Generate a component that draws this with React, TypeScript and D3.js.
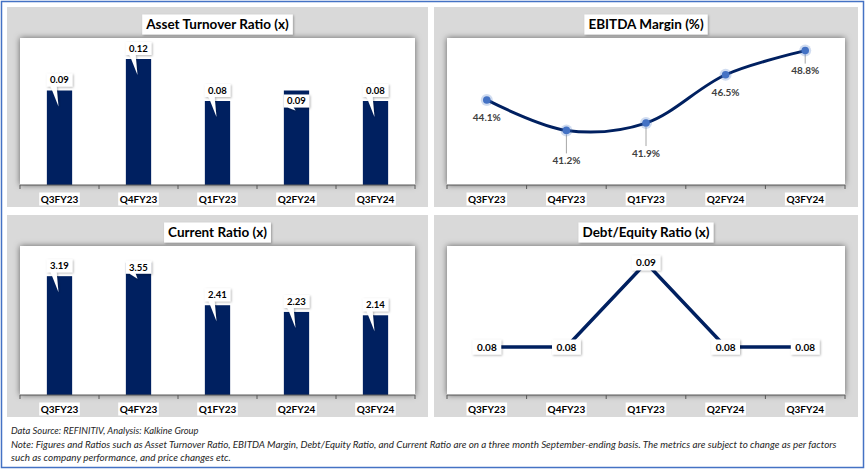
import { useEffect, useRef } from 'react';
import * as d3 from 'd3';

const quarters = ['Q3FY23', 'Q4FY23', 'Q1FY23', 'Q2FY24', 'Q3FY24'];
const assetTurnover = [0.09, 0.12, 0.08, 0.09, 0.08];
const ebitdaMargin = [44.1, 41.2, 41.9, 46.5, 48.8];
const currentRatio = [3.19, 3.55, 2.41, 2.23, 2.14];
const debtEquity = [0.08, 0.08, 0.09, 0.08, 0.08];

const titles = ['Asset Turnover Ratio (x)', 'EBITDA Margin (%)', 'Current Ratio (x)', 'Debt/Equity Ratio (x)'];
const footnotes = [
  'Data Source: REFINITIV, Analysis: Kalkine Group',
  'Note: Figures and Ratios such as Asset Turnover Ratio, EBITDA Margin, Debt/Equity Ratio, and Current Ratio  are on a three month September-ending basis. The metrics are subject to change as per factors',
  'such as company performance, and price changes etc.',
];

// manual nudges of the data labels, as placed in the source workbook
const assetLabelShift = [0, 0, 0, 21, 0];
const currentLabelShift = [0, 15, 0, 0, 0];
const ebitdaLabelDrop = [18, 30, 30, 18, 20];

const W = 866;
const H = 470;
const NAVY = '#002060';
const FONT = "Lato, 'Liberation Sans', sans-serif";

type Panel = { x: number; y: number; w: number; h: number };
type Plot = { l: number; r: number; t: number; b: number };

const panels: Panel[] = [
  { x: 7, y: 7, w: 421, h: 200 },
  { x: 434, y: 7, w: 424, h: 200 },
  { x: 7, y: 215, w: 421, h: 202 },
  { x: 434, y: 215, w: 424, h: 202 },
];

function frame(svg: any, p: Panel, title: string) {
  const g = svg.append('g');
  g.append('rect')
    .attr('x', p.x).attr('y', p.y).attr('width', p.w).attr('height', p.h)
    .attr('fill', '#d9d9d9');

  const plot: Plot = { l: p.x + 13, r: p.x + p.w - 13, t: p.y + 31, b: p.y + p.h - 22 };
  g.append('rect')
    .attr('x', plot.l).attr('y', plot.t)
    .attr('width', plot.r - plot.l).attr('height', plot.b - plot.t)
    .attr('fill', '#fff')
    .attr('filter', 'url(#plotShadow)');

  // title box
  const cx = p.x + p.w / 2;
  const box = g.append('rect');
  const t = g.append('text')
    .attr('x', cx).attr('y', p.y + 17.5).attr('dy', '0.35em')
    .attr('text-anchor', 'middle')
    .style('font-family', FONT).style('font-weight', 'bold').style('font-size', '13.5px')
    .attr('fill', '#000')
    .text(title);
  const tw = (t.node() as SVGTextElement).getComputedTextLength();
  box.attr('x', cx - tw / 2 - 4).attr('y', p.y + 7.5)
    .attr('width', tw + 8).attr('height', 20)
    .attr('fill', '#fff').attr('filter', 'url(#boxShadow)');

  const x = d3.scaleBand<string>()
    .domain(quarters)
    .range([plot.l, plot.r])
    .paddingInner(0.68)
    .paddingOuter(0.34);

  const layer = g.append('g');

  // category axis
  const edge = d3.scaleLinear().domain([0, quarters.length]).range([plot.l, plot.r]);
  const axis = g.append('g');
  axis.append('line')
    .attr('x1', plot.l).attr('x2', plot.r).attr('y1', plot.b).attr('y2', plot.b)
    .attr('stroke', '#595959').attr('stroke-width', 1);
  axis.selectAll('line.tick')
    .data(d3.range(quarters.length + 1))
    .join('line')
    .attr('class', 'tick')
    .attr('x1', (i: number) => edge(i)).attr('x2', (i: number) => edge(i))
    .attr('y1', plot.b).attr('y2', plot.b + 4)
    .attr('stroke', '#595959');

  quarters.forEach((q) => {
    const lx = (x(q) as number) + x.bandwidth() / 2;
    const ly = p.y + p.h - 8;
    const bg = axis.append('rect');
    const lt = axis.append('text')
      .attr('x', lx).attr('y', ly).attr('dy', '0.35em')
      .attr('text-anchor', 'middle')
      .style('font-family', FONT).style('font-weight', 'bold').style('font-size', '10px')
      .attr('fill', '#000')
      .text(q);
    const w = (lt.node() as SVGTextElement).getComputedTextLength();
    bg.attr('x', lx - w / 2 - 1.5).attr('y', ly - 6.5).attr('width', w + 3).attr('height', 13).attr('fill', '#fff');
  });

  return { layer, plot, x };
}

function barChart(svg: any, p: Panel, title: string, values: number[], domain: [number, number], shift: number[]) {
  const { layer, plot, x } = frame(svg, p, title);
  const y = d3.scaleLinear().domain(domain).range([plot.b, plot.t]);

  layer.selectAll('rect.bar')
    .data(values)
    .join('rect')
    .attr('class', 'bar')
    .attr('x', (_: number, i: number) => x(quarters[i]) as number)
    .attr('width', x.bandwidth())
    .attr('y', (d: number) => y(d))
    .attr('height', (d: number) => plot.b - y(d))
    .attr('fill', NAVY);

  values.forEach((v, i) => {
    const cx = (x(quarters[i]) as number) + x.bandwidth() / 2;
    const top = y(v);
    const callout = layer.append('path');
    const txt = layer.append('text')
      .attr('x', cx).attr('text-anchor', 'middle')
      .style('font-family', FONT).style('font-weight', 'bold').style('font-size', '9.5px')
      .attr('fill', '#000')
      .text(v.toFixed(2));
    const tw = (txt.node() as SVGTextElement).getComputedTextLength();
    const bw = tw + 7;
    const bh = 13;
    const by = top - 4 + shift[i] - bh;
    const bx = cx - bw / 2;
    const tipY = Math.max(top + 16, by + bh + 3);
    callout
      .attr('d', `M${bx},${by}H${bx + bw}V${by + bh}H${bx + 10}L${cx - 1},${tipY}L${bx + 4},${by + bh}H${bx}Z`)
      .attr('fill', '#fff')
      .attr('filter', 'url(#boxShadow)');
    txt.attr('y', by + bh / 2).attr('dy', '0.35em');
    txt.raise();
  });
}

function ebitdaChart(svg: any, p: Panel) {
  const { layer, plot, x } = frame(svg, p, titles[1]);
  const y = d3.scaleLinear().domain([36, 50]).range([plot.b, plot.t]);
  const px = (i: number) => (x(quarters[i]) as number) + x.bandwidth() / 2;

  const line = d3.line<number>()
    .x((_, i) => px(i))
    .y((d) => y(d))
    .curve(d3.curveCatmullRom.alpha(0.5));

  // leader lines
  ebitdaMargin.forEach((v, i) => {
    if (ebitdaLabelDrop[i] < 20) return;
    layer.append('line')
      .attr('x1', px(i)).attr('x2', px(i))
      .attr('y1', y(v) + 4).attr('y2', y(v) + ebitdaLabelDrop[i] - 7)
      .attr('stroke', '#a6a6a6').attr('stroke-width', 1);
  });

  layer.append('path')
    .datum(ebitdaMargin)
    .attr('fill', 'none')
    .attr('stroke', NAVY)
    .attr('stroke-width', 3)
    .attr('stroke-linecap', 'round')
    .attr('d', line);

  layer.selectAll('circle.halo')
    .data(ebitdaMargin)
    .join('circle')
    .attr('class', 'halo')
    .attr('cx', (_: number, i: number) => px(i)).attr('cy', (d: number) => y(d))
    .attr('r', 6).attr('fill', '#4472c4').attr('opacity', 0.25);

  layer.selectAll('circle.dot')
    .data(ebitdaMargin)
    .join('circle')
    .attr('class', 'dot')
    .attr('cx', (_: number, i: number) => px(i)).attr('cy', (d: number) => y(d))
    .attr('r', 3.8).attr('fill', '#4472c4');

  layer.selectAll('text.val')
    .data(ebitdaMargin)
    .join('text')
    .attr('class', 'val')
    .attr('x', (_: number, i: number) => px(i))
    .attr('y', (d: number, i: number) => y(d) + ebitdaLabelDrop[i])
    .attr('dy', '0.35em')
    .attr('text-anchor', 'middle')
    .style('font-family', FONT).style('font-weight', 'bold').style('font-size', '10px')
    .attr('fill', '#404040')
    .text((d: number) => `${d.toFixed(1)}%`);
}

function debtChart(svg: any, p: Panel) {
  const { layer, plot, x } = frame(svg, p, titles[3]);
  const y = d3.scaleLinear().domain([0.0743, 0.092]).range([plot.b, plot.t]);
  const px = (i: number) => (x(quarters[i]) as number) + x.bandwidth() / 2;

  layer.append('path')
    .datum(debtEquity)
    .attr('fill', 'none')
    .attr('stroke', NAVY)
    .attr('stroke-width', 3.5)
    .attr('d', d3.line<number>().x((_, i) => px(i)).y((d) => y(d)));

  debtEquity.forEach((v, i) => {
    const box = layer.append('rect');
    const txt = layer.append('text')
      .attr('x', px(i)).attr('y', y(v)).attr('dy', '0.35em')
      .attr('text-anchor', 'middle')
      .style('font-family', FONT).style('font-weight', 'bold').style('font-size', '10px')
      .attr('fill', '#000')
      .text(v.toFixed(2));
    const tw = (txt.node() as SVGTextElement).getComputedTextLength();
    box.attr('x', px(i) - tw / 2 - 4.5).attr('y', y(v) - 7.5)
      .attr('width', tw + 9).attr('height', 15)
      .attr('fill', '#fff').attr('filter', 'url(#boxShadow)');
  });
}

export default function App() {
  const svgRef = useRef<SVGSVGElement>(null);

  useEffect(() => {
    if (!svgRef.current) return;
    const svg = d3.select(svgRef.current);
    svg.selectAll('*').remove();

    const defs = svg.append('defs');
    defs.append('filter').attr('id', 'plotShadow')
      .attr('x', '-10%').attr('y', '-10%').attr('width', '120%').attr('height', '120%')
      .append('feDropShadow')
      .attr('dx', 0).attr('dy', 0).attr('stdDeviation', 3)
      .attr('flood-color', '#000').attr('flood-opacity', 0.55);
    defs.append('filter').attr('id', 'boxShadow')
      .attr('x', '-20%').attr('y', '-30%').attr('width', '150%').attr('height', '170%')
      .append('feDropShadow')
      .attr('dx', 1).attr('dy', 1).attr('stdDeviation', 1.2)
      .attr('flood-color', '#000').attr('flood-opacity', 0.3);

    svg.append('rect').attr('width', W).attr('height', H).attr('fill', '#fff');

    barChart(svg, panels[0], titles[0], assetTurnover, [0, 0.14], assetLabelShift);
    ebitdaChart(svg, panels[1]);
    barChart(svg, panels[2], titles[2], currentRatio, [0, 4], currentLabelShift);
    debtChart(svg, panels[3]);

    // fit each footnote line to its width in the source, shrinking the font rather than squeezing glyphs
    const widths = [188, 826, 220];
    footnotes.forEach((line, i) => {
      const t = svg.append('text')
        .attr('x', 11).attr('y', 434 + i * 13.5)
        .style('font-family', FONT).style('font-style', 'italic').style('font-size', '10.5px')
        .attr('fill', '#262626')
        .text(line);
      const natural = (t.node() as SVGTextElement).getComputedTextLength();
      const size = Math.min(10.5, (10.5 * widths[i]) / natural);
      t.style('font-size', `${size.toFixed(2)}px`);
      const fitted = (t.node() as SVGTextElement).getComputedTextLength();
      if (fitted < widths[i] - 2) {
        t.attr('textLength', widths[i]).attr('lengthAdjust', 'spacing');
      }
    });

    svg.append('rect')
      .attr('x', 1.5).attr('y', 1.5).attr('width', 862).attr('height', 466)
      .attr('fill', 'none').attr('stroke', '#4472c4').attr('stroke-width', 1.5);
  }, []);

  return (
    <div style={{ position: 'absolute', left: 0, top: 0 }}>
      <svg ref={svgRef} width={W} height={H} style={{ display: 'block' }} />
    </div>
  );
}
